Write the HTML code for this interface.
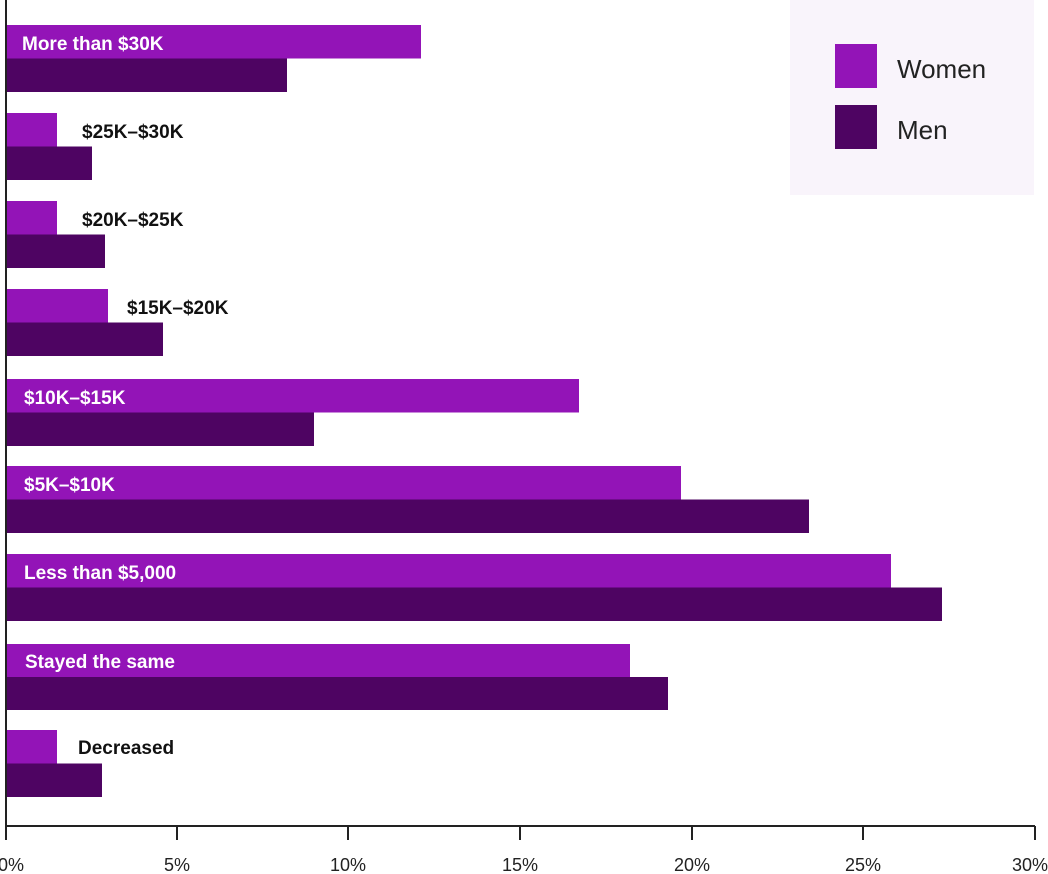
<!DOCTYPE html>
<html><head><meta charset="utf-8"><style>
html,body{margin:0;padding:0;background:#fff;width:1048px;height:874px;overflow:hidden}
svg{display:block}
text{font-family:"Liberation Sans",sans-serif}
</style></head><body>
<svg width="1048" height="874" viewBox="0 0 1048 874" xmlns="http://www.w3.org/2000/svg">
<rect x="790" y="0" width="244" height="195" fill="#f9f4fb"/>
<rect x="835" y="44" width="42" height="44" fill="#9314b7"/>
<rect x="835" y="105" width="42" height="44" fill="#4e0462"/>
<text x="897" y="78" font-size="26" fill="#222">Women</text>
<text x="897" y="139" font-size="26" fill="#222">Men</text>

<g fill="#9314b7">
<rect x="6" y="25" width="415" height="33.5"/>
<rect x="6" y="113" width="51" height="33.5"/>
<rect x="6" y="201" width="51" height="33.5"/>
<rect x="6" y="289" width="102" height="33.5"/>
<rect x="6" y="379" width="573" height="33.5"/>
<rect x="6" y="466" width="675" height="33.5"/>
<rect x="6" y="554" width="885" height="33.5"/>
<rect x="6" y="644" width="624" height="33.5"/>
<rect x="6" y="730" width="51" height="33.5"/>
</g>
<g fill="#4e0462">
<rect x="6" y="58.5" width="281" height="33.5"/>
<rect x="6" y="146.5" width="86" height="33.5"/>
<rect x="6" y="234.5" width="99" height="33.5"/>
<rect x="6" y="322.5" width="157" height="33.5"/>
<rect x="6" y="412.5" width="308" height="33.5"/>
<rect x="6" y="499.5" width="803" height="33.5"/>
<rect x="6" y="587.5" width="936" height="33.5"/>
<rect x="6" y="677" width="662" height="33"/>
<rect x="6" y="763.5" width="96" height="33.5"/>
</g>
<g font-size="19" font-weight="bold" fill="#fff">
<text x="22" y="50">More than $30K</text>
<text x="24" y="404">$10K–$15K</text>
<text x="24" y="491">$5K–$10K</text>
<text x="24" y="579">Less than $5,000</text>
<text x="25" y="668">Stayed the same</text>
</g>
<g font-size="19" font-weight="bold" fill="#111">
<text x="82" y="138">$25K–$30K</text>
<text x="82" y="226">$20K–$25K</text>
<text x="127" y="314">$15K–$20K</text>
<text x="78" y="754">Decreased</text>
</g>
<g stroke="#222" stroke-width="2" fill="none">
<line x1="6" y1="0" x2="6" y2="840"/>
<line x1="6" y1="826" x2="1035" y2="826"/>
<line x1="177" y1="826" x2="177" y2="840"/>
<line x1="348" y1="826" x2="348" y2="840"/>
<line x1="520" y1="826" x2="520" y2="840"/>
<line x1="692" y1="826" x2="692" y2="840"/>
<line x1="863" y1="826" x2="863" y2="840"/>
<line x1="1035" y1="826" x2="1035" y2="840"/>
</g>
<g font-size="18" fill="#222" text-anchor="middle">
<text x="11" y="871">0%</text>
<text x="177" y="871">5%</text>
<text x="348" y="871">10%</text>
<text x="520" y="871">15%</text>
<text x="692" y="871">20%</text>
<text x="863" y="871">25%</text>
<text x="1030" y="871">30%</text>
</g>
</svg>
</body></html>
